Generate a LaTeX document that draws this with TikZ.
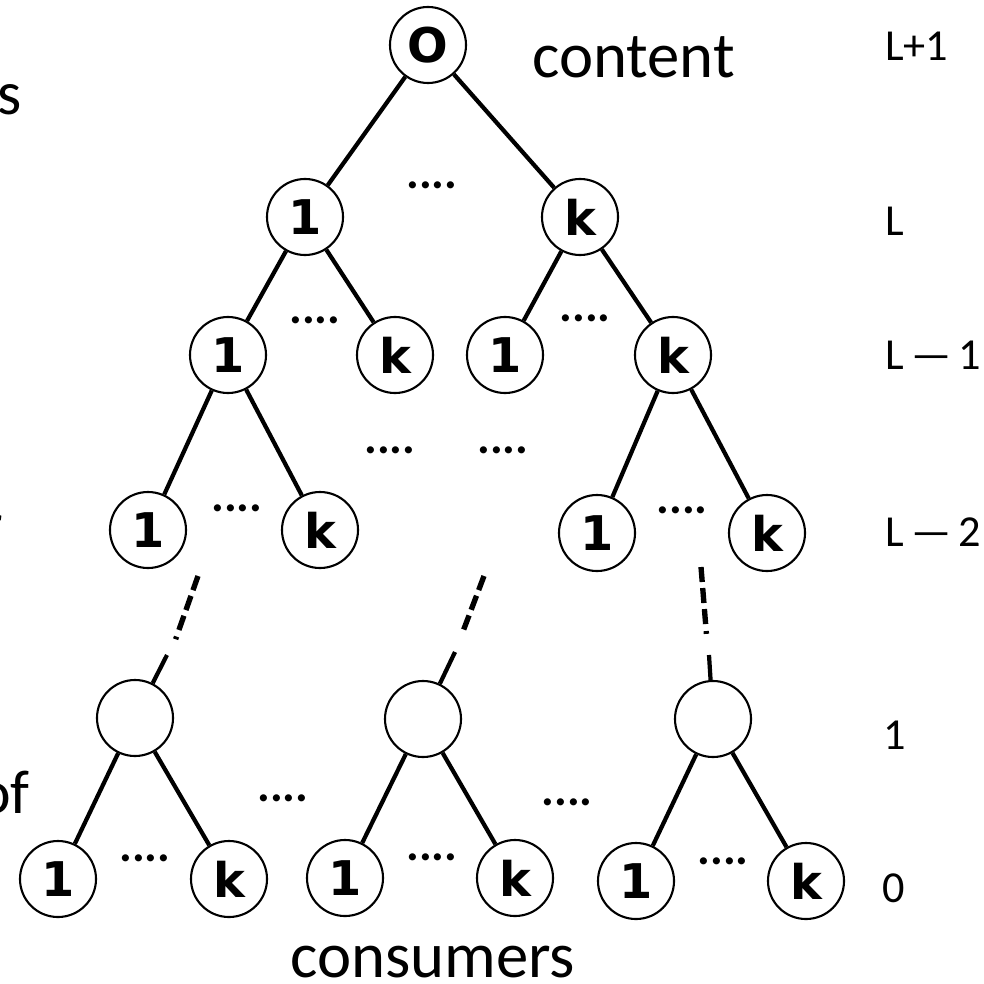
\documentclass[tikz,border=0pt]{standalone}
\usepackage{fontspec}
\setmainfont{Carlito}
\newfontfamily\vertexfont{DejaVu Sans}
\begin{document}
\begin{tikzpicture}[x=0.025cm, y=-0.025cm,
  vertex/.style={circle, draw, line width=1.5pt, minimum size=1.9cm, inner sep=0pt,
    font=\vertexfont\bfseries\fontsize{34}{34}\selectfont},
  edge/.style={line width=3pt},
  elide/.style={line width=3.8pt,
    dash pattern=on 10.7pt off 4.3pt on 10.7pt off 4.3pt on 10.7pt off 5pt on 2pt off 60pt},
  dotrow/.style={inner sep=0pt, font=\bfseries\fontsize{34}{34}\selectfont},
  lvl/.style={anchor=base west, inner sep=0pt, font=\fontsize{31.5}{32}\selectfont},
  caption/.style={anchor=base west, inner sep=0pt, font=\fontsize{46}{46}\selectfont}]
\useasboundingbox (0,0) rectangle (984,984);
\clip (0,0) rectangle (984,984);

% labels partly cut off at the left border
\node[anchor=base east, inner sep=0pt, font=\fontsize{44}{44}\selectfont] (cutS) at (22,115) {s};
\node[anchor=base east, inner sep=0pt, font=\fontsize{44}{44}\selectfont] (cutR) at (3,545) {r};
\node[anchor=base east, inner sep=0pt, font=\fontsize{44}{44}\selectfont] (cutOf) at (30,813) {of};

% root
\node[vertex] (root) at (428,45) {O};
\node[caption] (content) at (532,78) {content};

% level L
\node[vertex] (a1) at (305,217) {1};
\node[vertex] (ak) at (580,217) {k};
\node[dotrow] (d0) at (432,185) {....};

% level L-1
\node[vertex] (b1) at (228,355) {1};
\node[vertex] (bk) at (395,355) {k};
\node[vertex] (c1) at (505,355) {1};
\node[vertex] (ck) at (673,355) {k};
\node[dotrow] (d1) at (315,320) {....};
\node[dotrow] (d2) at (585,318) {....};
\node[dotrow] (d3) at (390,450) {....};
\node[dotrow] (d4) at (503,450) {....};

% level L-2
\node[vertex] (e1) at (148,530) {1};
\node[vertex] (ek) at (320,530) {k};
\node[vertex] (f1) at (597,533) {1};
\node[vertex] (fk) at (767,533) {k};
\node[dotrow] (d5) at (237,508) {....};
\node[dotrow] (d6) at (682,510) {....};

% level 1
\node[vertex] (g) at (135,718) {};
\node[vertex] (h) at (423,719) {};
\node[vertex] (i) at (713,719) {};
\node[dotrow] (d7) at (283,798) {....};
\node[dotrow] (d8) at (567,802) {....};

% level 0
\node[vertex] (g1) at (58,879) {1};
\node[vertex] (gk) at (229,879) {k};
\node[vertex] (h1) at (345,878) {1};
\node[vertex] (hk) at (515,878) {k};
\node[vertex] (i1) at (636,881) {1};
\node[vertex] (ik) at (806,881) {k};
\node[dotrow] (d9) at (145,858) {....};
\node[dotrow] (d10) at (432,857) {....};
\node[dotrow] (d11) at (723,861) {....};

\node[caption] (consumers) at (290,977) {consumers};

% level numbers
\node[lvl] (lL1) at (885,61) {L+1};
\node[lvl] (lL) at (885,236) {L};
\node[lvl] (lLm1) at (885,369) {L\,—\,1};
\node[lvl] (lLm2) at (885,546) {L\,—\,2};
\node[lvl] (l1) at (883,749) {1};
\node[lvl] (l0) at (882,902) {0};

% tree edges
\draw[edge] (root) -- (a1);
\draw[edge] (root) -- (ak);
\draw[edge] (a1) -- (b1);
\draw[edge] (a1) -- (bk);
\draw[edge] (ak) -- (c1);
\draw[edge] (ak) -- (ck);
\draw[edge] (b1) -- (e1);
\draw[edge] (b1) -- (ek);
\draw[edge] (ck) -- (f1);
\draw[edge] (ck) -- (fk);
\draw[edge] (g) -- (g1);
\draw[edge] (g) -- (gk);
\draw[edge] (h) -- (h1);
\draw[edge] (h) -- (hk);
\draw[edge] (i) -- (i1);
\draw[edge] (i) -- (ik);

% elided levels between L-2 and 1
\coordinate (gTop) at (198,576);
\coordinate (gMid) at (175,641);
\coordinate (gLow) at (167,655);
\coordinate (hTop) at (484,576);
\coordinate (hMid) at (462,634);
\coordinate (hLow) at (455,652);
\coordinate (iTop) at (701,567);
\coordinate (iMid) at (707,641);
\coordinate (iLow) at (709,655);
\draw[elide] (gTop) -- (gMid);
\draw[elide] (hTop) -- (hMid);
\draw[elide] (iTop) -- (iMid);
\draw[edge] (gLow) -- (g);
\draw[edge] (hLow) -- (h);
\draw[edge] (iLow) -- (i);
\end{tikzpicture}
\end{document}
